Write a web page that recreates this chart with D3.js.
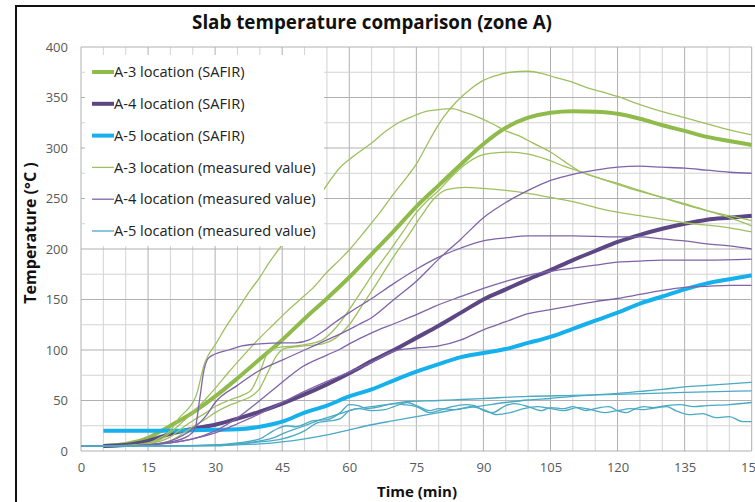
<!DOCTYPE html>
<html>
<head>
<meta charset="utf-8">
<script src="https://cdn.jsdelivr.net/npm/d3@7"></script>
<style>
  body { margin: 0; background: #fff; }
  svg { display: block; }
  text { font-family: "Open Sans", "DejaVu Sans", sans-serif; }
</style>
</head>
<body>
<svg id="chart" width="755" height="502"></svg>
<script>
// Time axis (min) and temperature axis (°C) tick values
const timeTicks = [0, 15, 30, 45, 60, 75, 90, 105, 120, 135, 150];
const tempTicks = [0, 50, 100, 150, 200, 250, 300, 350, 400];

// SAFIR simulation results, [time (min), temperature (°C)]
const a3Safir = [[5,5],[10,7],[15,13],[18,20],[20,25],[25,38],[30,54],[35,72],[40,91],[45,110],[50,131],[55,151],[60,172],[65,195],[70,218],[75,242],[80,263],[85,284],[90,304],[95,320],[100,330],[105,335],[110,336.5],[115,336],[120,334],[125,329],[130,322.5],[135,317],[140,311],[145,307],[150,303]];
const a4Safir = [[5,5],[10,6],[15,10],[20,17],[25,22],[30,26],[35,32],[40,39],[45,47],[50,56],[55,66],[60,77],[65,89],[70,100],[75,112],[80,124],[85,137],[90,150],[95,160],[100,170],[105,179],[110,189],[115,198],[120,207],[125,214],[130,220],[135,225],[140,229],[145,231],[150,233]];
const a5Safir = [[5,20],[10,20],[15,20],[20,20],[25,20.5],[30,21],[35,21.5],[40,24],[45,29],[50,38],[55,45],[60,54],[65,61],[70,70],[75,78.5],[80,86],[85,93],[90,97],[95,101],[100,107],[105,113],[110,121],[115,129],[120,137],[125,146],[130,153],[135,160],[140,166],[145,170],[150,174]];

// Measured thermocouple values, A-3 location
const a3Meas1 = [[0,5],[10,5.5],[15,8],[18,14],[20,20],[22,33],[24,42],[25,48],[26,58],[26.5,67],[27.5,85],[28.5,95],[30,105],[32,120],[35,140],[38,160],[40,172],[42,186],[45,204],[50,230],[54,257],[58,281],[61,292],[65,305],[68,316],[71,325],[74,331],[77,336],[80,338],[83,339],[86,335],[88,332],[92,324],[95,317],[98,312],[101,305],[105,296],[108,287],[112,276],[116,270],[120,265],[125,258],[130,251],[135,245],[140,238],[145,231],[150,223]];
const a3Meas2 = [[0,5],[10,5],[15,7],[18,12],[20,18],[22,26],[25,38],[28,52],[30,62],[33,78],[36,93],[40,112],[43,125],[46,138],[49,150],[52,162],[55,177],[58,190],[60,199],[63,215],[67,237],[70,255],[73,272],[75,284],[77,300],[79,316],[81,330],[84,346],[87,358],[90,367],[93,372],[96,375],[100,376],[103,374],[106,370],[110,365],[113,360],[117,355],[120,351],[125,343],[130,336],[135,330],[140,324],[145,318],[150,313]];
const a3Meas3 = [[0,5],[10,5],[15,7],[20,14],[23,24],[25,30],[28,38],[30,44],[33,50],[36,55],[38,60],[40,78],[41.5,95],[43,101],[45,103],[48,104],[51,106],[54,110],[57,122],[60,140],[63,160],[66,180],[69,198],[72,217],[75,236],[78,250],[80,258],[83,272],[86,284],[89,292],[92,295],[96,296],[100,294],[104,289],[108,282],[112,276],[116,270],[120,264],[125,257],[130,251],[135,244],[140,238],[145,233],[150,228]];
const a3Meas4 = [[0,5],[10,5],[15,6],[20,10],[23,18],[25,24],[28,32],[30,38],[33,45],[36,50],[38,54],[40,62],[42,80],[44,96],[46,102],[50,104],[54,106],[57,112],[60,125],[63,145],[66,165],[70,193],[73,212],[76,232],[79,250],[82,259],[86,261],[90,260],[95,258],[100,255],[105,251],[110,247],[117,239],[125,233],[135,226],[145,221],[150,217]];

// Measured thermocouple values, A-4 location
const a4Meas1 = [[0,5],[10,5],[15,6],[20,10],[25,22],[28,35],[30,48],[35,65],[40,80],[45,90],[50,100],[55,110],[58,116],[62,125],[65,132],[70,150],[75,168],[80,190],[85,210],[90,231],[95,246],[100,258],[105,268],[110,274],[115,278],[120,281],[125,282],[130,281],[135,280],[140,278],[145,276],[150,275]];
const a4Meas2 = [[0,5],[10,5],[15,6],[20,9],[24,15],[25.5,22],[26.5,50],[27.5,80],[28.5,92],[30,96],[33,100],[36,104],[40,106],[45,107],[48,107],[51,110],[54,118],[57,128],[60,137],[65,151],[70,166],[75,180],[80,192],[85,201],[90,208],[95,211],[100,213],[110,213],[120,212],[125,212],[130,210],[135,208],[140,205],[145,203],[150,200]];
const a4Meas3 = [[0,5],[10,5],[15,6],[20,8],[25,12],[30,20],[35,33],[40,50],[45,68],[49,82],[55,95],[58,101],[60,106],[65,117],[70,126],[75,135],[79,143],[85,153],[90,161],[95,168],[100,174],[105,178],[110,181],[115,184],[120,187],[125,188],[130,189],[140,189],[150,190]];
const a4Meas4 = [[0,5],[10,5],[15,6],[20,8],[25,12],[30,18],[35,27],[40,37],[45,48],[50,59],[55,69],[60,78],[65,88],[70,99],[75,102],[80,104],[85,110],[90,120],[95,128],[100,136],[105,140],[110,144],[115,148],[120,151],[125,155],[130,159],[135,162],[140,163],[145,164],[150,164]];

// Measured thermocouple values, A-5 location
const a5Meas1 = [[0,5],[20,5],[30,5.5],[40,7],[45,9],[50,12],[55,16],[60,21],[65,26],[70,30],[75,34],[80,38],[85,42],[90,45],[95,48],[100,50.5],[105,52],[110,54],[115,55.5],[120,57],[125,59],[130,61],[135,63.5],[140,65],[145,66.5],[150,68]];
const a5Meas2 = [[0,5],[20,5],[30,6],[35,7],[40,10],[43,13],[45,17],[48,22],[50,25],[53,30],[55,33],[58,37],[60,40],[65,44],[70,47],[73,49],[80,50],[85,51],[90,52],[100,54],[110,55],[120,56],[135,58],[150,59.5]];
const a5Meas3 = [[0,5],[20,5],[30,6],[35,8],[40,12],[43,20],[46,25],[48,24],[52,30],[55,31],[58,38],[60,46],[62,45],[64,42],[67,44],[70,47],[72,46],[75,44],[78,38],[80,40],[83,44],[86,46],[88,45],[90,40],[92,38],[95,45],[97,47],[100,44],[103,40],[105,43],[108,42],[110,44],[113,40],[115,42],[118,44],[120,40],[122,38],[124,42],[126,44],[128,43],[131,45],[134,46],[137,44],[140,45],[145,46],[150,48]];
const a5Meas4 = [[0,5],[20,5],[30,5],[35,7],[40,9],[45,12],[50,20],[53,28],[56,30],[58,32],[60,40],[62,42],[65,40],[68,41],[70,44],[73,48],[75,45],[78,40],[80,42],[84,41],[87,44],[90,41],[93,36],[96,38],[99,42],[102,44],[105,42],[108,40],[111,43],[114,41],[117,38],[120,40],[123,42],[126,41],[129,43],[131,44],[133,40],[136,36],[139,37],[142,33],[145,34],[148,29],[150,29]];

const legendLabels = [
  "A-3 location (SAFIR)",
  "A-4 location (SAFIR)",
  "A-5 location (SAFIR)",
  "A-3 location (measured value)",
  "A-4 location (measured value)",
  "A-5 location (measured value)"
];

const colA3 = "#8fbb4b", colA4 = "#5c4683", colA5 = "#16b0ec";
const colA3m = "#9dc05f", colA4m = "#7f63a8", colA5m = "#4aa9c4";

const series = [
  { data: a3Safir, color: colA3, width: 4 },
  { data: a4Safir, color: colA4, width: 4 },
  { data: a5Safir, color: colA5, width: 4 },
  { data: a3Meas1, color: colA3m, width: 1.3 },
  { data: a3Meas2, color: colA3m, width: 1.3 },
  { data: a3Meas3, color: colA3m, width: 1.3 },
  { data: a3Meas4, color: colA3m, width: 1.3 },
  { data: a4Meas1, color: colA4m, width: 1.3 },
  { data: a4Meas2, color: colA4m, width: 1.3 },
  { data: a4Meas3, color: colA4m, width: 1.3 },
  { data: a4Meas4, color: colA4m, width: 1.3 },
  { data: a5Meas1, color: colA5m, width: 1.3 },
  { data: a5Meas2, color: colA5m, width: 1.3 },
  { data: a5Meas3, color: colA5m, width: 1.3 },
  { data: a5Meas4, color: colA5m, width: 1.3 }
];
const legendStyles = [
  { color: colA3, width: 4 }, { color: colA4, width: 4 }, { color: colA5, width: 4 },
  { color: colA3m, width: 1.3 }, { color: colA4m, width: 1.3 }, { color: colA5m, width: 1.3 }
];

const svg = d3.select("#chart");
const x = d3.scaleLinear().domain([0, 150]).range([81, 751.7]);
const y = d3.scaleLinear().domain([0, 400]).range([451, 47]);

// Outer chart frame (top and left edges)
svg.append("path")
  .attr("d", "M16,502V6H755")
  .attr("fill", "none").attr("stroke", "#111").attr("stroke-width", 2);

// Title
svg.append("text")
  .attr("x", 372).attr("y", 29)
  .attr("text-anchor", "middle")
  .attr("font-size", 18.8).attr("font-weight", "bold").attr("fill", "#111")
  .text("Slab temperature comparison (zone A)");

// Grid: minor every 5 min / 25 °C, major every 15 min / 50 °C
const grid = svg.append("g");
grid.selectAll("line.vx").data(d3.range(0, 151, 5)).join("line")
  .attr("x1", d => x(d)).attr("x2", d => x(d))
  .attr("y1", y(0)).attr("y2", y(400))
  .attr("stroke", d => d % 15 === 0 ? "#b0b0b0" : "#d3d3d3")
  .attr("stroke-width", 1);
grid.selectAll("line.hy").data(d3.range(0, 401, 25)).join("line")
  .attr("y1", d => y(d)).attr("y2", d => y(d))
  .attr("x1", x(0)).attr("x2", x(150))
  .attr("stroke", d => d % 50 === 0 ? "#b0b0b0" : "#d3d3d3")
  .attr("stroke-width", 1);

// Axes labels via d3 axes
const xAxis = svg.append("g")
  .attr("transform", `translate(0,${y(0)})`)
  .call(d3.axisBottom(x).tickValues(timeTicks).tickSize(0).tickPadding(12).tickFormat(d3.format("d")));
const yAxis = svg.append("g")
  .attr("transform", `translate(${x(0)},0)`)
  .call(d3.axisLeft(y).tickValues(tempTicks).tickSize(0).tickPadding(13).tickFormat(d3.format("d")));
[xAxis, yAxis].forEach(a => {
  a.select(".domain").remove();
  a.selectAll("text")
    .attr("font-family", "\"Open Sans\", sans-serif")
    .attr("font-size", 13).attr("fill", "#595959");
});

// Series lines
const line = d3.line().x(d => x(d[0])).y(d => y(d[1])).curve(d3.curveMonotoneX);
svg.append("g").selectAll("path").data(series).join("path")
  .attr("d", d => line(d.data))
  .attr("fill", "none")
  .attr("stroke", d => d.color)
  .attr("stroke-width", d => d.width)
  .attr("stroke-linejoin", "round");

// Legend
const legend = svg.append("g");
legend.append("rect")
  .attr("x", 85).attr("y", 55).attr("width", 239).attr("height", 191)
  .attr("fill", "#fff");
const rows = legend.selectAll("g").data(legendLabels).join("g")
  .attr("transform", (d, i) => `translate(0,${72 + i * 31.8})`);
rows.append("line")
  .attr("x1", 92).attr("x2", 114).attr("y1", 0).attr("y2", 0)
  .attr("stroke", (d, i) => legendStyles[i].color)
  .attr("stroke-width", (d, i) => legendStyles[i].width);
rows.append("text")
  .attr("x", 114).attr("dy", "0.36em")
  .attr("font-size", 14.6).attr("fill", "#222")
  .text(d => d);

// Axis titles
svg.append("text")
  .attr("transform", "translate(36,233) rotate(-90)")
  .attr("text-anchor", "middle")
  .attr("font-size", 16).attr("font-weight", "bold").attr("fill", "#111")
  .text("Temperature (°C )");
svg.append("text")
  .attr("x", 417).attr("y", 497)
  .attr("text-anchor", "middle")
  .attr("font-size", 15).attr("font-weight", "bold").attr("fill", "#111")
  .text("Time (min)");
</script>
</body>
</html>
